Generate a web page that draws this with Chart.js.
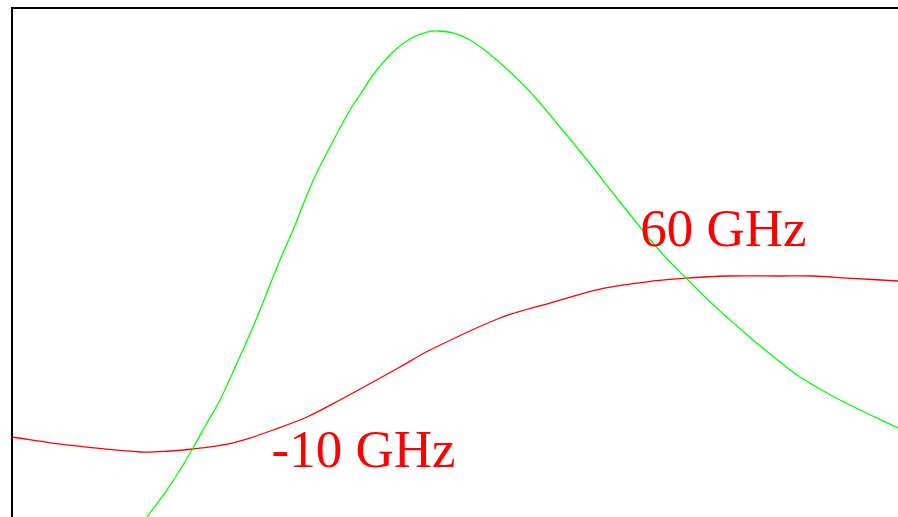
<!DOCTYPE html>
<html>
<head>
<meta charset="utf-8">
<script src="https://cdn.jsdelivr.net/npm/chart.js@4"></script>
<style>
  html, body { margin: 0; padding: 0; background: #fff; }
  #wrap { width: 898px; height: 517px; }
</style>
</head>
<body>
<div id="wrap"><canvas id="chart" width="898" height="517"></canvas></div>
<script>
// values (x and y in arbitrary 0-100 units)
const greenX = [14.45, 15.58, 17.49, 18.96, 20.43, 22.01, 23.48, 25.40, 27.20, 28.89, 30.25, 31.72, 33.86, 35.89, 38.15, 39.50, 40.74, 43.00, 44.92, 46.84, 48.08, 49.77, 51.69, 53.61, 55.98, 58.80, 61.85, 64.90, 68.62, 70.88, 72.35, 74.27, 76.19, 77.99, 79.91, 81.83, 83.63, 86.12, 88.94, 93.45, 100];
const greenY = [-1.96, 0.79, 5.30, 9.23, 13.56, 18.47, 22.99, 30.26, 37.33, 44.60, 50.49, 56.39, 65.62, 72.69, 79.96, 83.50, 86.84, 91.36, 93.91, 95.28, 95.48, 95.09, 93.71, 91.36, 87.82, 82.91, 76.62, 70.14, 61.89, 56.97, 53.83, 50.10, 46.76, 43.61, 40.47, 37.52, 34.77, 31.24, 27.50, 22.99, 17.49];

const redX = [0, 6.21, 14.45, 17.83, 20.43, 23.81, 26.86, 29.46, 33.30, 37.02, 40.74, 43.79, 47.18, 55.08, 60.72, 66.37, 72.35, 76.19, 80.70, 86.68, 90.41, 94.24, 100];
const redY = [15.72, 14.15, 12.77, 12.97, 13.36, 14.15, 15.52, 17.09, 19.65, 22.99, 26.52, 29.47, 32.81, 39.10, 42.04, 44.79, 46.37, 46.95, 47.35, 47.35, 47.35, 46.95, 46.37];

const labelTexts = ['60 GHz', '-10 GHz'];
const labelX = [70.9, 29.3];
const labelY = [53.2, 9.8];

const toPoints = (xs, ys) => xs.map((x, i) => ({ x: x, y: ys[i] }));

// frame on the left and top of the plot area
const framePlugin = {
    id: 'frame',
    afterDraw(chart) {
        const { ctx, chartArea } = chart;
        ctx.save();
        ctx.strokeStyle = '#000';
        ctx.lineWidth = 2;
        ctx.beginPath();
        ctx.moveTo(chartArea.left, chart.height);
        ctx.lineTo(chartArea.left, chartArea.top);
        ctx.lineTo(chart.width, chartArea.top);
        ctx.stroke();
        ctx.restore();
    }
};

// the red frequency labels
const labelPlugin = {
    id: 'freqLabels',
    afterDatasetsDraw(chart) {
        const { ctx, scales } = chart;
        ctx.save();
        ctx.fillStyle = '#ff0000';
        ctx.font = '53px "Liberation Serif", "Times New Roman", serif';
        ctx.textBaseline = 'alphabetic';
        labelTexts.forEach((t, i) => {
            ctx.fillText(t, scales.x.getPixelForValue(labelX[i]), scales.y.getPixelForValue(labelY[i]));
        });
        ctx.restore();
    }
};

const ctx = document.getElementById('chart').getContext('2d');
new Chart(ctx, {
    type: 'line',
    data: {
        datasets: [{
            data: toPoints(greenX, greenY),
            borderColor: '#00ff00',
            borderWidth: 1.3,
            pointRadius: 0,
            tension: 0.3
        }, {
            data: toPoints(redX, redY),
            borderColor: '#ff0000',
            borderWidth: 1.3,
            pointRadius: 0,
            tension: 0.3
        }]
    },
    options: {
        responsive: false,
        animation: false,
        layout: { padding: { left: 12, top: 8, right: 0, bottom: 0 } },
        elements: { line: { capBezierPoints: false } },
        plugins: {
            legend: { display: false },
            tooltip: { enabled: false }
        },
        scales: {
            x: { type: 'linear', min: 0, max: 100, display: false },
            y: { type: 'linear', min: 0, max: 100, display: false }
        }
    },
    plugins: [framePlugin, labelPlugin]
});
</script>
</body>
</html>
